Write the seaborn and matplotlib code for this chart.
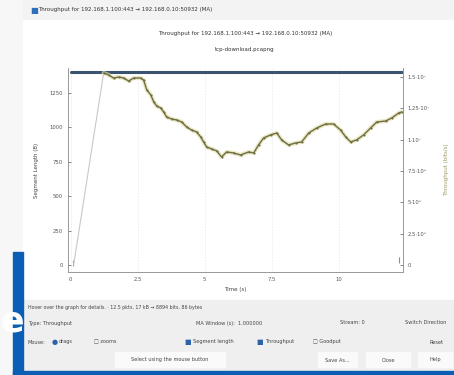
import numpy as np
import pandas as pd
import matplotlib.pyplot as plt
import seaborn as sns
from matplotlib.patches import Rectangle

# valores
tempo = [0.11, 1.23, 1.42, 1.60, 1.79, 1.98, 2.16, 2.35, 2.61, 2.72, 2.84, 2.99,
         3.10, 3.21, 3.36, 3.47, 3.58, 3.77, 3.96, 4.14, 4.33, 4.51, 4.70, 4.85,
         4.96, 5.07, 5.26, 5.45, 5.63, 5.82, 6.08, 6.34, 6.64, 6.83, 7.01, 7.20,
         7.46, 7.69, 7.87, 8.13, 8.40, 8.62, 8.88, 9.18, 9.51, 9.81, 10.07, 10.26,
         10.45, 10.67, 10.93, 11.19, 11.42, 11.75, 11.98, 12.24, 12.35]
vazao_mbps = [0.0, 15.32, 15.16, 14.92, 15.00, 14.92, 14.68, 14.92, 14.92, 14.76, 13.97, 13.57,
              13.01, 12.69, 12.53, 12.21, 11.81, 11.65, 11.57, 11.41, 11.01, 10.77, 10.61, 10.22,
              9.82, 9.42, 9.26, 9.10, 8.62, 9.02, 8.94, 8.78, 9.02, 8.94, 9.58, 10.14,
              10.38, 10.53, 9.98, 9.58, 9.74, 9.82, 10.53, 10.93, 11.25, 11.25, 10.77, 10.22,
              9.82, 9.98, 10.38, 10.93, 11.41, 11.49, 11.73, 12.13, 12.21]

seg_tempo = [0.0, 12.35]
seg_tam = [1400, 1400]
seg_extra_tempo = [0.1, 12.25]
seg_extra_tam = [15, 35]

x_ticks = [0, 2.5, 5, 7.5, 10]
x_labels = ['0', '2.5', '5', '7.5', '10']
y_ticks = [0, 250, 500, 750, 1000, 1250]
y2_ticks = [0, 2.5e6, 5e6, 7.5e6, 1e7, 1.25e7, 1.5e7]
y2_labels = ['0', '2.5·10⁶', '5·10⁶', '7.5·10⁶', '1·10⁷', '1.25·10⁷', '1.5·10⁷']

df = pd.DataFrame({'t': tempo, 'bps': np.array(vazao_mbps) * 1e6})

sns.set_style('white')
plt.rcParams['font.family'] = ['DejaVu Sans']

fig = plt.figure(figsize=(4.54, 3.75), dpi=100)
fig.patch.set_facecolor('#f0f0f0')

W, H = 454, 375
def ret(x0, y0, x1, y1, cor, z=-10):
    fig.patches.append(Rectangle((x0 / W, 1 - y1 / H), (x1 - x0) / W, (y1 - y0) / H,
                                 transform=fig.transFigure, color=cor, zorder=z))

# janela ao fundo, area branca do dialogo, moldura azul
ret(0, 0, 23, 375, '#f7f7f7')
ret(23, 0, 454, 20, '#f3f3f3')
ret(23, 20, 454, 300, '#ffffff')
ret(23, 300, 454, 371, '#efefef')
ret(13, 252, 23, 375, '#0a5fb4')
ret(13, 371, 454, 375, '#0a5fb4')
fig.text(1 / W, 1 - 322 / H, 'e', color='white', fontsize=25, fontweight='bold',
         ha='left', va='center')

fig.text(30 / W, 1 - 10 / H, '\u25a0', color='#2d6fb8', fontsize=6, va='center')
fig.text(38 / W, 1 - 10 / H, 'Throughput for 192.168.1.100:443 \u2192 192.168.0.10:50932 (MA)',
         fontsize=4, color='#333333', va='center')
fig.text(245 / W, 1 - 33 / H, 'Throughput for 192.168.1.100:443 \u2192 192.168.0.10:50932 (MA)',
         fontsize=4, color='#333333', ha='center', va='center')
fig.text(245 / W, 1 - 49 / H, 'tcp-download.pcapng', fontsize=4, color='#333333',
         ha='center', va='center')

ax = fig.add_axes([68 / W, 1 - 272 / H, 335 / W, 204 / H])
ax.set_facecolor('white')
ax2 = ax.twinx()

# comprimento dos segmentos
sns.lineplot(x=seg_tempo, y=seg_tam, ax=ax, color='#3a5470', linewidth=2.2)
sns.scatterplot(x=seg_extra_tempo, y=seg_extra_tam, ax=ax, color='#8090a8',
                marker='|', s=25, linewidth=0.8)

# vazao
sns.lineplot(data=df.iloc[:2], x='t', y='bps', ax=ax2, color='#c8c8c8', linewidth=0.8)
sns.lineplot(data=df.iloc[1:], x='t', y='bps', ax=ax2, color='#e2e0a8', linewidth=3.0, alpha=0.7)
sns.lineplot(data=df.iloc[1:], x='t', y='bps', ax=ax2, color='#6f6d48', linewidth=1.0,
             marker='o', markersize=1.5, markeredgewidth=0)

ax.set_xlim(-0.1, 12.4)
ax.set_ylim(-51, 1432)
ax2.set_ylim(-0.56e6, 1.572e7)

ax.set_xticks(x_ticks)
ax.set_xticklabels(x_labels)
ax.set_yticks(y_ticks)
ax2.set_yticks(y2_ticks)
ax2.set_yticklabels(y2_labels)
for a in (ax, ax2):
    a.tick_params(labelsize=3.8, colors='#555555', direction='in', length=2, width=0.5)
ax.grid(axis='x', color='#e4e4e4', linestyle=(0, (2, 2)), linewidth=0.5)

ax.set_xlabel('Time (s)', fontsize=4, color='#444444', labelpad=4)
ax.set_ylabel('Segment Length (B)', fontsize=4, color='#444444', labelpad=8)
ax2.set_ylabel('Throughput (bits/s)', fontsize=4, color='#9a9860', labelpad=10)

for a in (ax, ax2):
    a.spines['top'].set_visible(False)
    for s in ('left', 'bottom', 'right'):
        a.spines[s].set_color('#999999')
        a.spines[s].set_linewidth(0.6)

# controles do dialogo
cinza = '#444444'
fig.text(28 / W, 1 - 307 / H, 'Hover over the graph for details. \u00b7 12.5 pkts, 17 kB \u2192 8894 bits, 86 bytes',
         fontsize=3.4, color=cinza, va='center')
fig.text(28 / W, 1 - 323 / H, 'Type: Throughput', fontsize=3.6, color=cinza, va='center')
fig.text(196 / W, 1 - 323 / H, 'MA Window (s):  1.000000', fontsize=3.6, color=cinza, va='center')
fig.text(340 / W, 1 - 323 / H, 'Stream: 0', fontsize=3.6, color=cinza, va='center')
fig.text(405 / W, 1 - 323 / H, 'Switch Direction', fontsize=3.6, color=cinza, va='center')
fig.text(28 / W, 1 - 342 / H, 'Mouse:', fontsize=3.6, color=cinza, va='center')
fig.text(52 / W, 1 - 342 / H, '\u25cf', fontsize=5, color='#2b62a8', va='center')
fig.text(59 / W, 1 - 342 / H, 'drags', fontsize=3.6, color=cinza, va='center')
fig.text(94 / W, 1 - 342 / H, '\u25a1 zooms', fontsize=3.6, color=cinza, va='center')
fig.text(184 / W, 1 - 342 / H, '\u25a0', fontsize=5, color='#2b62a8', va='center')
fig.text(193 / W, 1 - 342 / H, 'Segment length', fontsize=3.6, color=cinza, va='center')
fig.text(256 / W, 1 - 342 / H, '\u25a0', fontsize=5, color='#2b62a8', va='center')
fig.text(265 / W, 1 - 342 / H, 'Throughput', fontsize=3.6, color=cinza, va='center')
fig.text(313 / W, 1 - 342 / H, '\u25a1 Goodput', fontsize=3.6, color=cinza, va='center')
fig.text(430 / W, 1 - 342 / H, 'Reset', fontsize=3.6, color=cinza, va='center')

for x0, x1, txt in [(115, 225, 'Select using the mouse button'), (318, 357, 'Save As...'),
                    (366, 410, 'Close'), (418, 452, 'Help')]:
    ret(x0, 352, x1, 367, '#fafafa')
    fig.text((x0 + x1) / 2 / W, 1 - 360 / H, txt, fontsize=3.6, color=cinza,
             ha='center', va='center')

plt.savefig('out.png', dpi=100)
